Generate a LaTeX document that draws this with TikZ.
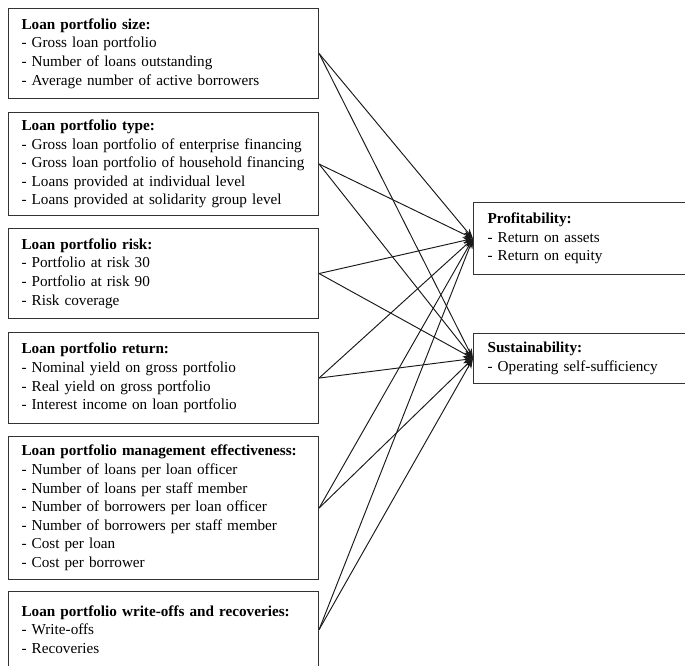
\documentclass[tikz,border=0pt]{standalone}
\usepackage{fontspec}
\setmainfont{Liberation Serif}
\usetikzlibrary{arrows.meta}
\newcommand{\myfs}{\fontsize{15.2}{18.6}\selectfont}
\tikzset{
  lbox/.style={draw=black!80, line width=1.1pt, anchor=north west, minimum width=310pt,
    text width=284pt, inner xsep=13pt, inner ysep=0pt, align=left, font=\myfs},
  rbox/.style={draw=black!80, line width=1.1pt, anchor=north west, minimum width=240pt,
    text width=212pt, inner xsep=14pt, inner ysep=0pt, align=left, font=\myfs},
  arr/.style={draw=black!90, line width=0.95pt, -{Stealth[length=10pt,width=7pt]}}
}
\begin{document}
\begin{tikzpicture}[x=1pt,y=-1pt]
\useasboundingbox (0,0) rectangle (685,666);
\node[lbox, minimum height=90pt] (b1) at (8,8) {\textbf{Loan portfolio size:}\\- Gross loan portfolio\\- Number of loans outstanding\\- Average number of active borrowers};
\node[lbox, minimum height=103pt] (b2) at (8,112) {\textbf{Loan portfolio type:}\\- Gross loan portfolio of enterprise financing\\- Gross loan portfolio of household financing\\- Loans provided at individual level\\- Loans provided at solidarity group level};
\node[lbox, minimum height=90pt] (b3) at (8,228) {\textbf{Loan portfolio risk:}\\- Portfolio at risk 30\\- Portfolio at risk 90\\- Risk coverage};
\node[lbox, minimum height=91pt] (b4) at (8,332) {\textbf{Loan portfolio return:}\\- Nominal yield on gross portfolio\\- Real yield on gross portfolio\\- Interest income on loan portfolio};
\node[lbox, minimum height=143pt] (b5) at (8,436) {\textbf{Loan portfolio management effectiveness:}\\- Number of loans per loan officer\\- Number of loans per staff member\\- Number of borrowers per loan officer\\- Number of borrowers per staff member\\- Cost per loan\\- Cost per borrower};
\node[lbox, minimum height=76pt] (b6) at (8,591) {\textbf{Loan portfolio write-offs and recoveries:}\\- Write-offs\\- Recoveries};
\node[rbox, minimum height=72pt] (p) at (473,202) {\textbf{Profitability:}\\- Return on assets\\- Return on equity};
\node[rbox, minimum height=50pt] (s) at (473,333) {\textbf{Sustainability:}\\- Operating self-sufficiency};
\foreach \b in {b1,b2,b3,b4,b5,b6}{
  \draw[arr] (\b.east) -- (p.west);
  \draw[arr] (\b.east) -- (s.west);
}
\end{tikzpicture}
\end{document}
